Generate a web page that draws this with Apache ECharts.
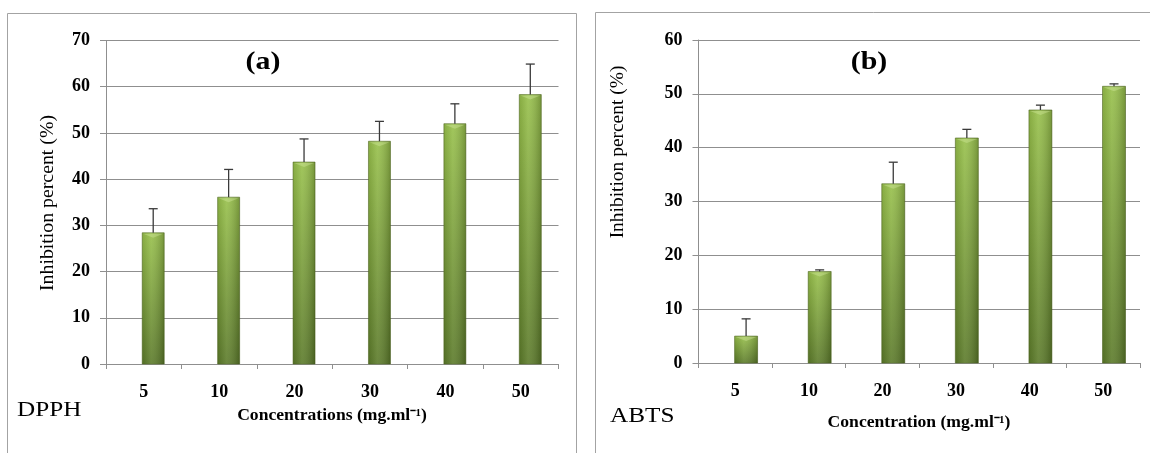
<!DOCTYPE html>
<html>
<head>
<meta charset="utf-8">
<script src="https://cdn.jsdelivr.net/npm/echarts@6/dist/echarts.min.js"></script>
<style>
html,body{margin:0;padding:0;background:#fff;}
#chart{width:1150px;height:453px;}
</style>
</head>
<body>
<div id="chart"></div>
<script>
// ---- data ----
const categories = ['5', '10', '20', '30', '40', '50'];
const dpphMean = [28.4, 36.1, 43.7, 48.2, 52.0, 58.3];
const dpphErr  = [5.2, 6.0, 5.0, 4.3, 4.3, 6.6];
const abtsMean = [5.0, 17.0, 33.3, 41.8, 47.0, 51.4];
const abtsErr  = [3.2, 0.3, 4.0, 1.6, 0.9, 0.45];
const dpphTicks = [0, 10, 20, 30, 40, 50, 60, 70];
const abtsTicks = [0, 10, 20, 30, 40, 50, 60];

const SERIF = '"Liberation Serif", "Times New Roman", serif';
const GRID_COLOR = '#8f8f8f';

function makeRender(barW, offset) {
  return function (params, api) {
    const idx = api.value(0), v = api.value(1), e = api.value(2);
    const base = api.coord([idx, 0]);
    const top = api.coord([idx, v]);
    const errTop = api.coord([idx, v + e]);
    const cx = base[0] + offset;
    const x0 = cx - barW / 2;
    const h = base[1] - top[1];
    return {
      type: 'group',
      children: [
        {
          type: 'rect',
          shape: { x: x0, y: top[1], width: barW, height: h },
          style: {
            fill: new echarts.graphic.LinearGradient(0, 0, 0, 1, [
              { offset: 0, color: '#97c04a' },
              { offset: 1, color: '#5b7a29' }
            ]),
            stroke: 'rgba(80,105,35,0.7)',
            lineWidth: 0.8
          }
        },
        {
          type: 'rect',
          shape: { x: x0, y: top[1], width: barW, height: h },
          style: {
            fill: new echarts.graphic.LinearGradient(0, 0, 1, 0, [
              { offset: 0, color: 'rgba(0,0,0,0.10)' },
              { offset: 0.4, color: 'rgba(255,255,255,0.10)' },
              { offset: 1, color: 'rgba(0,0,0,0.22)' }
            ])
          }
        },
        {
          type: 'polygon',
          shape: { points: [[x0 + 1, top[1] + 1], [x0 + barW - 1, top[1] + 1], [cx, top[1] + Math.min(5, h / 2)]] },
          style: { fill: 'rgba(220,240,170,0.35)' }
        },
        {
          type: 'line',
          shape: { x1: cx, y1: top[1], x2: cx, y2: errTop[1] },
          style: { stroke: '#3a3a3a', lineWidth: 1.3 }
        },
        {
          type: 'line',
          shape: { x1: cx - 4.5, y1: errTop[1], x2: cx + 4.5, y2: errTop[1] },
          style: { stroke: '#3a3a3a', lineWidth: 1.3 }
        }
      ]
    };
  };
}

function xAxisCfg(gi) {
  return {
    type: 'category', gridIndex: gi, data: categories, boundaryGap: true,
    axisLine: { show: true, lineStyle: { color: GRID_COLOR, width: 1 } },
    axisTick: { show: true, length: 5, lineStyle: { color: GRID_COLOR } },
    axisLabel: { color: '#000', fontFamily: SERIF, fontWeight: 'bold', fontSize: 18, margin: 19 },
    splitLine: { show: false }
  };
}
function yAxisCfg(gi, ticks) {
  return {
    type: 'value', gridIndex: gi, min: ticks[0], max: ticks[ticks.length - 1], interval: ticks[1] - ticks[0],
    axisLine: { show: true, lineStyle: { color: GRID_COLOR, width: 1 } },
    axisTick: { show: true, length: 6, lineStyle: { color: GRID_COLOR } },
    axisLabel: { color: '#000', fontFamily: SERIF, fontWeight: 'bold', fontSize: 18, margin: 16 },
    splitLine: { show: true, lineStyle: { color: GRID_COLOR, width: 1 } }
  };
}

function txt(text, x, y, font, opts) {
  opts = opts || {};
  return {
    type: 'text', x: x, y: y, rotation: opts.rotation || 0,
    scaleX: opts.scaleX || 1, scaleY: 1, z: 10,
    style: {
      text: text, x: 0, y: 0, font: font, fill: '#000',
      textAlign: opts.align || 'center', textVerticalAlign: 'middle',
      align: opts.align || 'center', verticalAlign: 'middle'
    }
  };
}

const chart = echarts.init(document.getElementById('chart'), null, { renderer: 'canvas' });
chart.setOption({
  backgroundColor: '#fff',
  animation: false,
  grid: [
    { left: 106, right: 591.5, top: 40.5, bottom: 89, outerBoundsMode: 'none', containLabel: false },
    { left: 698.5, right: 10, top: 40, bottom: 90, outerBoundsMode: 'none', containLabel: false }
  ],
  xAxis: [xAxisCfg(0), xAxisCfg(1)],
  yAxis: [yAxisCfg(0, dpphTicks), yAxisCfg(1, abtsTicks)],
  series: [
    {
      type: 'custom', xAxisIndex: 0, yAxisIndex: 0,
      data: categories.map((c, i) => [i, dpphMean[i], dpphErr[i]]),
      encode: { x: 0, y: 1 },
      renderItem: makeRender(22, 9.5)
    },
    {
      type: 'custom', xAxisIndex: 1, yAxisIndex: 1,
      data: categories.map((c, i) => [i, abtsMean[i], abtsErr[i]]),
      encode: { x: 0, y: 1 },
      renderItem: makeRender(23, 10.8)
    }
  ],
  graphic: [
    { type: 'rect', shape: { x: 7.5, y: 13.5, width: 569, height: 520 }, style: { fill: 'none', stroke: '#a3a3a3', lineWidth: 1 } },
    { type: 'rect', shape: { x: 595.5, y: 12.5, width: 620, height: 520 }, style: { fill: 'none', stroke: '#a3a3a3', lineWidth: 1 } },
    txt('(a)', 263, 62, 'bold 26px ' + SERIF, { scaleX: 1.15 }),
    txt('(b)', 869, 62, 'bold 26px ' + SERIF, { scaleX: 1.15 }),
    txt('Inhibition percent (%)', 48, 203, '18px ' + SERIF, { rotation: Math.PI / 2, scaleX: 1.1 }),
    txt('Inhibition percent (%)', 618, 152, '18px ' + SERIF, { rotation: Math.PI / 2, scaleX: 1.08 }),
    txt('Concentrations (mg.ml\u207B\u00B9)', 332, 416, 'bold 16px ' + SERIF, { scaleX: 1.1 }),
    txt('Concentration (mg.ml\u207B\u00B9)', 919, 423, 'bold 16px ' + SERIF, { scaleX: 1.1 }),
    txt('DPPH', 17, 410, '21px ' + SERIF, { align: 'left', scaleX: 1.2 }),
    txt('ABTS', 610, 416, '21px ' + SERIF, { align: 'left', scaleX: 1.2 })
  ]
});
</script>
</body>
</html>
